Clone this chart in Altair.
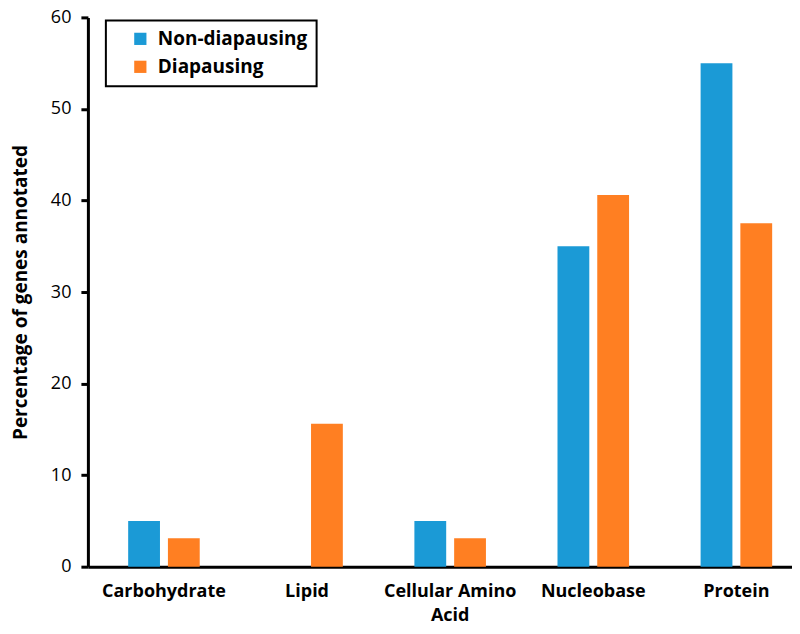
import altair as alt
import pandas as pd

categories = ["Carbohydrate", "Lipid", "Cellular Amino Acid", "Nucleobase", "Protein"]
series = ["Non-diapausing", "Diapausing"]
non_diapausing = [5.0, 0.0, 5.0, 35.0, 55.0]
diapausing = [3.1, 15.6, 3.1, 40.6, 37.5]
colors = ["#1B9AD6", "#FF7F22"]

rows = []
for c, a, b in zip(categories, non_diapausing, diapausing):
    rows.append({"category": c, "group": series[0], "value": a})
    rows.append({"category": c, "group": series[1], "value": b})
df = pd.DataFrame(rows)

FONT = "Open Sans"

chart = alt.Chart(df).mark_bar().encode(
    x=alt.X("category:N", sort=categories,
            scale=alt.Scale(paddingInner=0.5, paddingOuter=0.21, align=0.67),
            axis=alt.Axis(title=None, labelAngle=0, ticks=False, labelPadding=16,
                          labelFont=FONT, labelFontSize=18, labelFontWeight="bold",
                          labelColor="black", domainColor="black", domainWidth=3,
                          labelLimit=300, labelLineHeight=24,
                          labelExpr="datum.label == 'Cellular Amino Acid' ? ['Cellular Amino', 'Acid'] : datum.label")),
    xOffset=alt.XOffset("group:N", sort=series,
                        scale=alt.Scale(paddingInner=0.2, paddingOuter=0)),
    y=alt.Y("value:Q", scale=alt.Scale(domain=[0, 60], nice=False),
            axis=alt.Axis(title="Percentage of genes annotated", values=[0, 10, 20, 30, 40, 50, 60],
                          grid=False, tickSize=7, tickWidth=3, tickColor="black",
                          domainColor="black", domainWidth=3, labelPadding=10,
                          labelFont=FONT, labelFontSize=18, labelColor="black",
                          titleFont=FONT, titleFontSize=19, titleFontWeight="bold",
                          titleColor="black", titlePadding=20)),
    color=alt.Color("group:N", sort=series,
                    scale=alt.Scale(domain=series, range=colors),
                    legend=alt.Legend(title=None, orient="none", legendX=18, legendY=3,
                                      fillColor="white", strokeColor="black",
                                      padding=9, rowPadding=8, symbolType="square",
                                      symbolSize=150, symbolStrokeWidth=0, symbolOffset=16,
                                      labelOffset=8,
                                      labelFont=FONT, labelFontSize=19, labelFontWeight="bold",
                                      labelColor="black")),
).properties(
    width=705, height=550,
    padding={"left": 3, "top": 0, "right": 0, "bottom": 0},
).configure_view(stroke=None).configure_legend(strokeWidth=2)

chart.save("out.html", embed_options={"renderer": "svg", "actions": False})
